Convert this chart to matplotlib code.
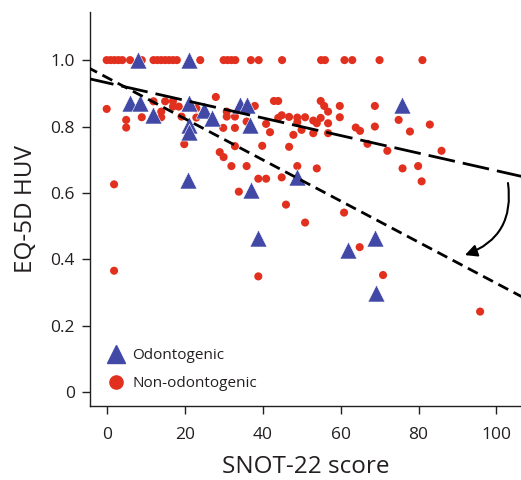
import matplotlib
matplotlib.use('Agg')
import matplotlib.pyplot as plt
from matplotlib.lines import Line2D

plt.rcParams['font.family'] = ['Open Sans', 'DejaVu Sans']

# Odontogenic (blue triangles)
odonto_x = [8, 21, 6, 8.5, 12, 21, 21, 21, 25, 27, 34.2, 35.9, 36.8,
            75.8, 20.9, 36.9, 38.9, 48.7, 62, 68.8, 69]
odonto_y = [1.0, 1.0, 0.871, 0.871, 0.835, 0.871, 0.805, 0.784, 0.85, 0.827, 0.866, 0.866, 0.805,
            0.866, 0.639, 0.609, 0.464, 0.649, 0.428, 0.464, 0.298]

# Non-odontogenic (red dots)
nonodonto_x = [0, 1, 2, 3, 4, 6, 9, 12, 13, 14, 15, 16, 17, 18, 24, 30, 31, 32, 33,
               37, 39, 45, 55, 56, 61, 63, 70, 81,
               0, 5, 5, 9, 12, 14, 14, 15, 17, 17, 18.5, 19.2, 19.9, 23, 23,
               28, 30.8, 30.8, 32.9, 29.9, 32.9, 29, 30, 32.9, 35.9, 32, 35.9,
               38, 39.9, 38.9, 40.9, 33.9, 40.9, 41.9, 42.9, 44, 44, 44.9, 44.9,
               46, 46.8, 46.8, 47.9, 48.9, 48.9, 48.9, 50, 50.9, 50.9, 53, 53,
               53.9, 53.9, 54.9, 54.9, 55.8, 56.8, 56.8, 56.8, 59.8, 59.8, 60.9,
               63.9, 65, 64.9, 66.9, 68.8, 68.8, 70.9, 72, 74.9, 75.9, 77.8,
               79.9, 80.8, 82.9, 85.9, 38.9, 1.9, 1.9, 95.8]
nonodonto_y = [1.0, 1.0, 1.0, 1.0, 1.0, 1.0, 1.0, 1.0, 1.0, 1.0, 1.0, 1.0, 1.0, 1.0, 1.0,
               1.0, 1.0, 1.0, 1.0, 1.0, 1.0, 1.0, 1.0, 1.0, 1.0, 1.0, 1.0, 1.0,
               0.853, 0.82, 0.797, 0.828, 0.876, 0.845, 0.828, 0.876, 0.876, 0.86,
               0.86, 0.83, 0.747, 0.827, 0.855,
               0.889, 0.845, 0.83, 0.83, 0.796, 0.796, 0.723, 0.708, 0.741, 0.815,
               0.681, 0.681,
               0.862, 0.742, 0.643, 0.643, 0.604, 0.808, 0.783, 0.877, 0.877, 0.826,
               0.834, 0.647,
               0.565, 0.829, 0.739, 0.775, 0.827, 0.813, 0.681, 0.79, 0.828, 0.511,
               0.818, 0.78,
               0.81, 0.674, 0.877, 0.826, 0.862, 0.845, 0.81, 0.78, 0.862, 0.828,
               0.541,
               0.797, 0.787, 0.437, 0.748, 0.862, 0.80, 0.353, 0.727, 0.82, 0.674,
               0.785,
               0.681, 0.635, 0.806, 0.727, 0.349, 0.626, 0.366, 0.243]

# fitted lines: (intercept, slope)
fit_long = (0.932, -0.00265)
fit_short = (0.948, -0.0062)

red = '#E2301F'
blue = '#4148A6'
ink = '#231F20'

fig = plt.figure(figsize=(5.21, 4.80), dpi=100)
ax = fig.add_axes([90 / 521, 74 / 480, 431 / 521, 394 / 480])

ax.scatter(nonodonto_x, nonodonto_y, s=34, color=red, edgecolors='none', zorder=2)
ax.scatter(odonto_x, odonto_y, s=150, marker='^', color=blue,
           edgecolors='white', linewidths=0.4, zorder=3)

xs = [-5, 110]
ax.plot(xs, [fit_long[0] + fit_long[1] * x for x in xs], color='black', lw=2,
        dashes=(9.7, 2.9), zorder=4)
ax.plot(xs, [fit_short[0] + fit_short[1] * x for x in xs], color='black', lw=2,
        dashes=(4.0, 2.2), zorder=4)

ax.annotate('', xy=(91.9, 0.413), xytext=(102.95, 0.630),
            arrowprops=dict(arrowstyle='-|>', connectionstyle='arc3,rad=-0.4',
                            color='black', lw=1.5, mutation_scale=18,
                            shrinkA=0, shrinkB=0), zorder=5)

ax.set_xlim(-4.28, 106.29)
ax.set_ylim(-0.0412, 1.1448)
ax.set_xticks([0, 20, 40, 60, 80, 100])
ax.set_yticks([0, 0.2, 0.4, 0.6, 0.8, 1.0])
ax.set_yticklabels(['0', '0.2', '0.4', '0.6', '0.8', '1.0'])
ax.tick_params(axis='both', direction='out', length=6, width=1, labelsize=12.5,
               color=ink, labelcolor=ink)
ax.tick_params(axis='y', pad=5)
ax.tick_params(axis='x', pad=9)
for side in ['top', 'right']:
    ax.spines[side].set_visible(False)
for side in ['left', 'bottom']:
    ax.spines[side].set_linewidth(1)
    ax.spines[side].set_color(ink)

ax.set_xlabel('SNOT-22 score', fontsize=17.5, color=ink, labelpad=9)
ax.set_ylabel('EQ-5D HUV', fontsize=17.5, color=ink, labelpad=9)

handles = [Line2D([], [], marker='^', ls='none', color=blue, markersize=13),
           Line2D([], [], marker='o', ls='none', color=red, markersize=9.5)]
ax.legend(handles, ['Odontogenic', 'Non-odontogenic'], loc='lower left',
          bbox_to_anchor=(0.0, 0.01), frameon=False, fontsize=11, labelcolor=ink,
          handletextpad=0.05, labelspacing=0.85, borderaxespad=0.3)

fig.savefig('out.png', dpi=100)
